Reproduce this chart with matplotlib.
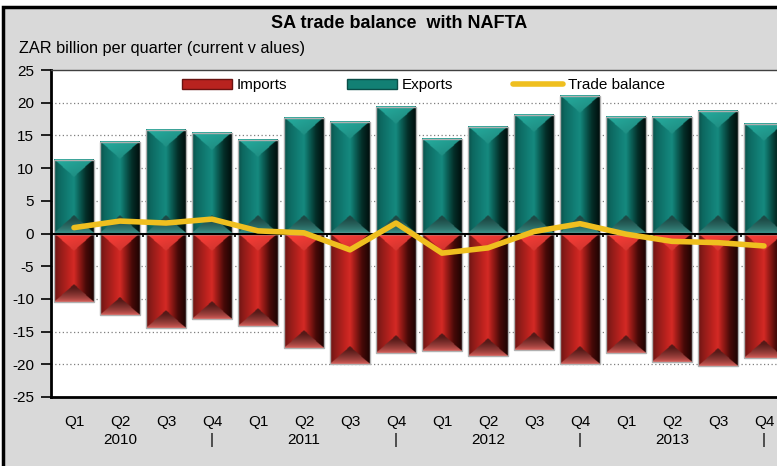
import numpy as np
import matplotlib
matplotlib.use("Agg")
import matplotlib.pyplot as plt
from matplotlib.patches import Rectangle
from matplotlib.lines import Line2D
from matplotlib.colors import to_rgb

plt.rcParams['font.family'] = ['Liberation Sans', 'DejaVu Sans']
plt.rcParams['axes.unicode_minus'] = False

# ---- data (ZAR billion per quarter) ----
quarters = ['Q1', 'Q2', 'Q3', 'Q4'] * 4
years_row = ['', '2010', '', '|', '', '2011', '', '|',
             '', '2012', '', '|', '', '2013', '', '|']
exports = [11.2, 14.0, 15.8, 15.3, 14.3, 17.6, 17.1, 19.4,
           14.5, 16.3, 18.1, 21.0, 17.8, 17.8, 18.7, 16.8]
imports = [-10.5, -12.4, -14.5, -13.1, -14.2, -17.5, -19.9, -18.3,
           -18.0, -18.8, -17.8, -19.9, -18.3, -19.6, -20.2, -19.0]
trade_balance = [0.9, 1.9, 1.6, 2.2, 0.4, 0.1, -2.5, 1.6,
                 -3.0, -2.2, 0.3, 1.5, -0.1, -1.2, -1.4, -1.9]

W, H = 777, 466
fig = plt.figure(figsize=(W / 100, H / 100), dpi=100, facecolor='white')

# grey chart frame with black border
frame = Rectangle((3 / W, -0.05), 1.2, 1 - 7 / H + 0.05, transform=fig.transFigure,
                  facecolor='#d9d9d9', edgecolor='black', linewidth=2.5, zorder=-10)
fig.patches.append(frame)

ax_left, ax_right, ax_top, ax_bot = 51, 787, 70, 397
ax = fig.add_axes([ax_left / W, (H - ax_bot) / H, (ax_right - ax_left) / W, (ax_bot - ax_top) / H])
ax.set_zorder(1)
ax.set_facecolor('white')

x = np.arange(len(quarters))
bar_w = 0.86
bevel = 2.7


def gradient(stops, u):
    pos = [s[0] for s in stops]
    cols = np.array([to_rgb(s[1]) for s in stops])
    return np.stack([np.interp(u, pos, cols[:, k]) for k in range(3)], axis=-1)


teal_stops = [(0.0, '#0a4e48'), (0.12, '#0d6860'), (0.38, '#128077'), (0.5, '#168a7f'),
              (0.62, '#0c645b'), (0.8, '#042e28'), (1.0, '#000d0c')]
red_stops = [(0.0, '#6a1311'), (0.12, '#8a1b18'), (0.38, '#c0231f'), (0.5, '#d42a25'),
             (0.62, '#9c1c18'), (0.8, '#480a08'), (1.0, '#1c0302')]
teal_faces = dict(top='#21988c', base='#1d4a46', strip='#42a096')
red_faces = dict(top='#e23832', base='#561a18', strip='#ea6a64')


def draw_bar(xc, lo, hi, stops, faces):
    height = hi - lo
    nrows = max(int(height * 12), 24)
    ncols = 60
    u = (np.arange(ncols) + 0.5) / ncols
    side = gradient(stops, u)
    img = np.tile(side[None, :, :], (nrows, 1, 1))
    yv = hi - (np.arange(nrows) + 0.5) / nrows * height
    Y = yv[:, None] * np.ones(ncols)[None, :]
    U = np.ones(nrows)[:, None] * u[None, :]
    tri = bevel * (1 - np.abs(2 * U - 1))
    # top bevel face
    top_mask = (hi - Y) < tri
    top_c = np.array(to_rgb(faces['top']))
    shade = (1.0 + 0.15 * (1 - (hi - Y) / bevel))[..., None]
    top_img = np.clip(top_c[None, None, :] * shade * (1 - 0.12 * U[..., None]), 0, 1)
    img[top_mask] = top_img[top_mask]
    # bottom bevel face, dark at the apex, light at the lower edge
    base_mask = (Y - lo) < tri
    t = np.clip((Y - lo) / (bevel * 0.8), 0, 1)[..., None] ** 0.6
    base_img = (np.array(to_rgb(faces['strip']))[None, None, :] * (1 - t)
                + np.array(to_rgb(faces['base']))[None, None, :] * t)
    img[base_mask] = base_img[base_mask]
    x0, x1 = xc - bar_w / 2, xc + bar_w / 2
    ax.imshow(img, extent=[x0, x1, lo, hi], aspect='auto', origin='upper',
              interpolation='bilinear', zorder=2)
    ax.add_patch(Rectangle((x0, lo), bar_w, height, facecolor='none',
                           edgecolor='#b0b0b0', linewidth=1.0, zorder=2.1))


for xi, ex, im in zip(x, exports, imports):
    draw_bar(xi, 0.0, ex, teal_stops, teal_faces)
    draw_bar(xi, im, 0.0, red_stops, red_faces)

# grid
for g in [20, 15, 10, 5, -5, -10, -15, -20]:
    ax.axhline(g, color='#7f7f7f', linewidth=0.9, linestyle=(0, (1, 2)), zorder=1)

# zero line with small ticks between bars
ax.axhline(0, color='black', linewidth=1.5, zorder=3)
ax.vlines(x[:-1] + 0.5, -0.55, 0, color='black', linewidth=1.2, zorder=3)

# trade balance line
ax.plot(x, trade_balance, color='#efbf1f', linewidth=4.0, solid_capstyle='round',
        solid_joinstyle='round', zorder=4)

ax.set_xlim(-0.5, len(x) - 0.5)
ax.set_ylim(-25, 25)
ax.set_yticks(np.arange(-25, 26, 5))
ax.tick_params(axis='y', direction='out', length=7, width=1.2, pad=5,
               labelsize=11, colors='black')
ax.set_xticks(x)
ax.set_xticklabels([f'{q}\n{y}' for q, y in zip(quarters, years_row)],
                   fontsize=11, linespacing=1.35)
ax.tick_params(axis='x', length=0, pad=13)

for s in ['left', 'bottom']:
    ax.spines[s].set_linewidth(2.0)
    ax.spines[s].set_color('black')
ax.spines['right'].set_visible(False)
ax.spines['top'].set_linestyle((0, (1, 1)))
ax.spines['top'].set_color('#404040')
ax.spines['top'].set_linewidth(1.0)

# legend
handles = [Rectangle((0, 0), 1, 1, facecolor='#b8231f', edgecolor='#6a1311', linewidth=1),
           Rectangle((0, 0), 1, 1, facecolor='#128074', edgecolor='#0a4e48', linewidth=1),
           Line2D([], [], color='#efbf1f', linewidth=4.0, solid_capstyle='round')]
ax.legend(handles, ['Imports', 'Exports', 'Trade balance'], loc='center',
          bbox_to_anchor=(0.506, 0.954), ncol=3, frameon=False, fontsize=11,
          handlelength=3.3, handleheight=0.6, handletextpad=0.3, columnspacing=3.9)

fig.text(399 / W, 1 - 24 / H, 'SA trade balance  with NAFTA', ha='center', va='center',
         fontsize=13, fontweight='bold')
fig.text(19 / W, 1 - 49 / H, 'ZAR billion per quarter (current v alues)', ha='left',
         va='center', fontsize=11.7)

fig.savefig('out.png', dpi=100, facecolor=fig.get_facecolor())
